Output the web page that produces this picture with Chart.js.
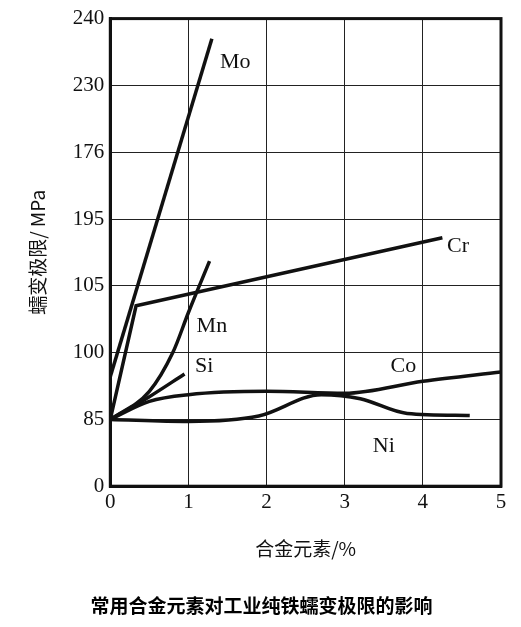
<!DOCTYPE html>
<html><head><meta charset="utf-8">
<script src="https://cdn.jsdelivr.net/npm/chart.js@4"></script>
<style>body{margin:0;background:#fff}#wrap{width:521px;height:627px}</style>
</head><body><div id="wrap"><canvas id="c"></canvas></div>
<script>
// y axis labels as printed (evenly spaced, index 0..7)
const yTickLabels = ["0", "85", "100", "105", "195", "176", "230", "240"];
const xTicks = [0, 1, 2, 3, 4, 5];

const mo = [[0, 1.64], [1.3, 6.7]];
const cr = [[0, 1.0], [0.33, 2.7], [4.25, 3.72]];
const mn = [[0, 1.0], [0.5, 1.42], [0.8, 2.0], [1.0, 2.6], [1.27, 3.37]];
const si = [[0, 1.0], [0.5, 1.34], [0.95, 1.68]];
const co = [[0, 1.0], [0.5, 1.27], [1, 1.37], [2, 1.42], [3, 1.39], [4, 1.57], [5, 1.71]];
const ni = [[0, 1.0], [1, 0.97], [1.9, 1.05], [2.7, 1.37], [3.2, 1.31], [3.8, 1.09], [4.6, 1.06]];

const labels = [
  ["Mo", 1.6, 6.35], ["Cr", 4.45, 3.6], ["Mn", 1.3, 2.4],
  ["Si", 1.2, 1.8], ["Co", 3.75, 1.8], ["Ni", 3.5, 0.6]
];

const series = [["Mo", mo, false], ["Cr", cr, false], ["Mn", mn, true], ["Si", si, true], ["Co", co, true], ["Ni", ni, true]];

const font = "'Liberation Serif', 'DejaVu Serif', serif";

const labelPlugin = {
  id: "lbl",
  afterDatasetsDraw(chart) {
    const {ctx, scales: {x, y}} = chart;
    ctx.save();
    ctx.fillStyle = "#111";
    ctx.font = "22px " + font;
    ctx.textAlign = "center";
    ctx.textBaseline = "middle";
    labels.forEach(([t, a, b]) => ctx.fillText(t, x.getPixelForValue(a), y.getPixelForValue(b)));
    ctx.restore();
  }
};

new Chart(document.getElementById("c"), {
  type: "line",
  data: {
    datasets: series.map(([n, pts, curved]) => {
      const d = {
        label: n,
        data: pts.map(p => ({x: p[0], y: p[1]})),
        borderColor: "#111",
        borderWidth: 3.5,
        pointRadius: 0,
        tension: 0
      };
      if (curved) { d.tension = 0.4; d.cubicInterpolationMode = "monotone"; }
      return d;
    })
  },
  options: {
    responsive: true,
    maintainAspectRatio: false,
    animation: false,
    layout: {padding: {top: 9, right: 20, left: 22, bottom: 0}},
    plugins: {
      legend: {display: false},
      tooltip: {enabled: false},
      title: {
        display: true, position: "bottom", text: "常用合金元素对工业纯铁蠕变极限的影响",
        color: "#000", font: {family: "'Noto Sans CJK SC'", size: 19, weight: "bold"},
        padding: {top: 30, bottom: 10}
      }
    },
    scales: {
      x: {
        type: "linear", min: 0, max: 5,
        afterBuildTicks: s => { s.ticks = xTicks.map(v => ({value: v})); },
        ticks: {color: "#111", font: {family: font, size: 21}, padding: 4},
        grid: {color: "#222", lineWidth: 1, drawTicks: false},
        border: {color: "#111", width: 3},
        title: {display: true, text: "合金元素/%", color: "#111",
          font: {family: "'Noto Sans CJK SC'", size: 19}, padding: {top: 18}}
      },
      y: {
        type: "linear", min: 0, max: 7,
        afterBuildTicks: s => { s.ticks = yTickLabels.map((_, i) => ({value: i})); },
        ticks: {color: "#111", font: {family: font, size: 21}, padding: 6,
          callback: v => yTickLabels[v]},
        grid: {color: "#222", lineWidth: 1, drawTicks: false},
        border: {color: "#111", width: 3},
        title: {display: true, text: "蠕变极限/ MPa", color: "#111",
          font: {family: "'Noto Sans CJK SC'", size: 19}, padding: {bottom: 18}}
      }
    }
  },
  plugins: [labelPlugin, {
    id: "frame",
    afterDraw(chart) {
      const {ctx, chartArea: a} = chart;
      ctx.save(); ctx.strokeStyle = "#111"; ctx.lineWidth = 3;
      ctx.strokeRect(a.left, a.top, a.right - a.left, a.bottom - a.top);
      ctx.restore();
    }
  }]
});
</script></body></html>
